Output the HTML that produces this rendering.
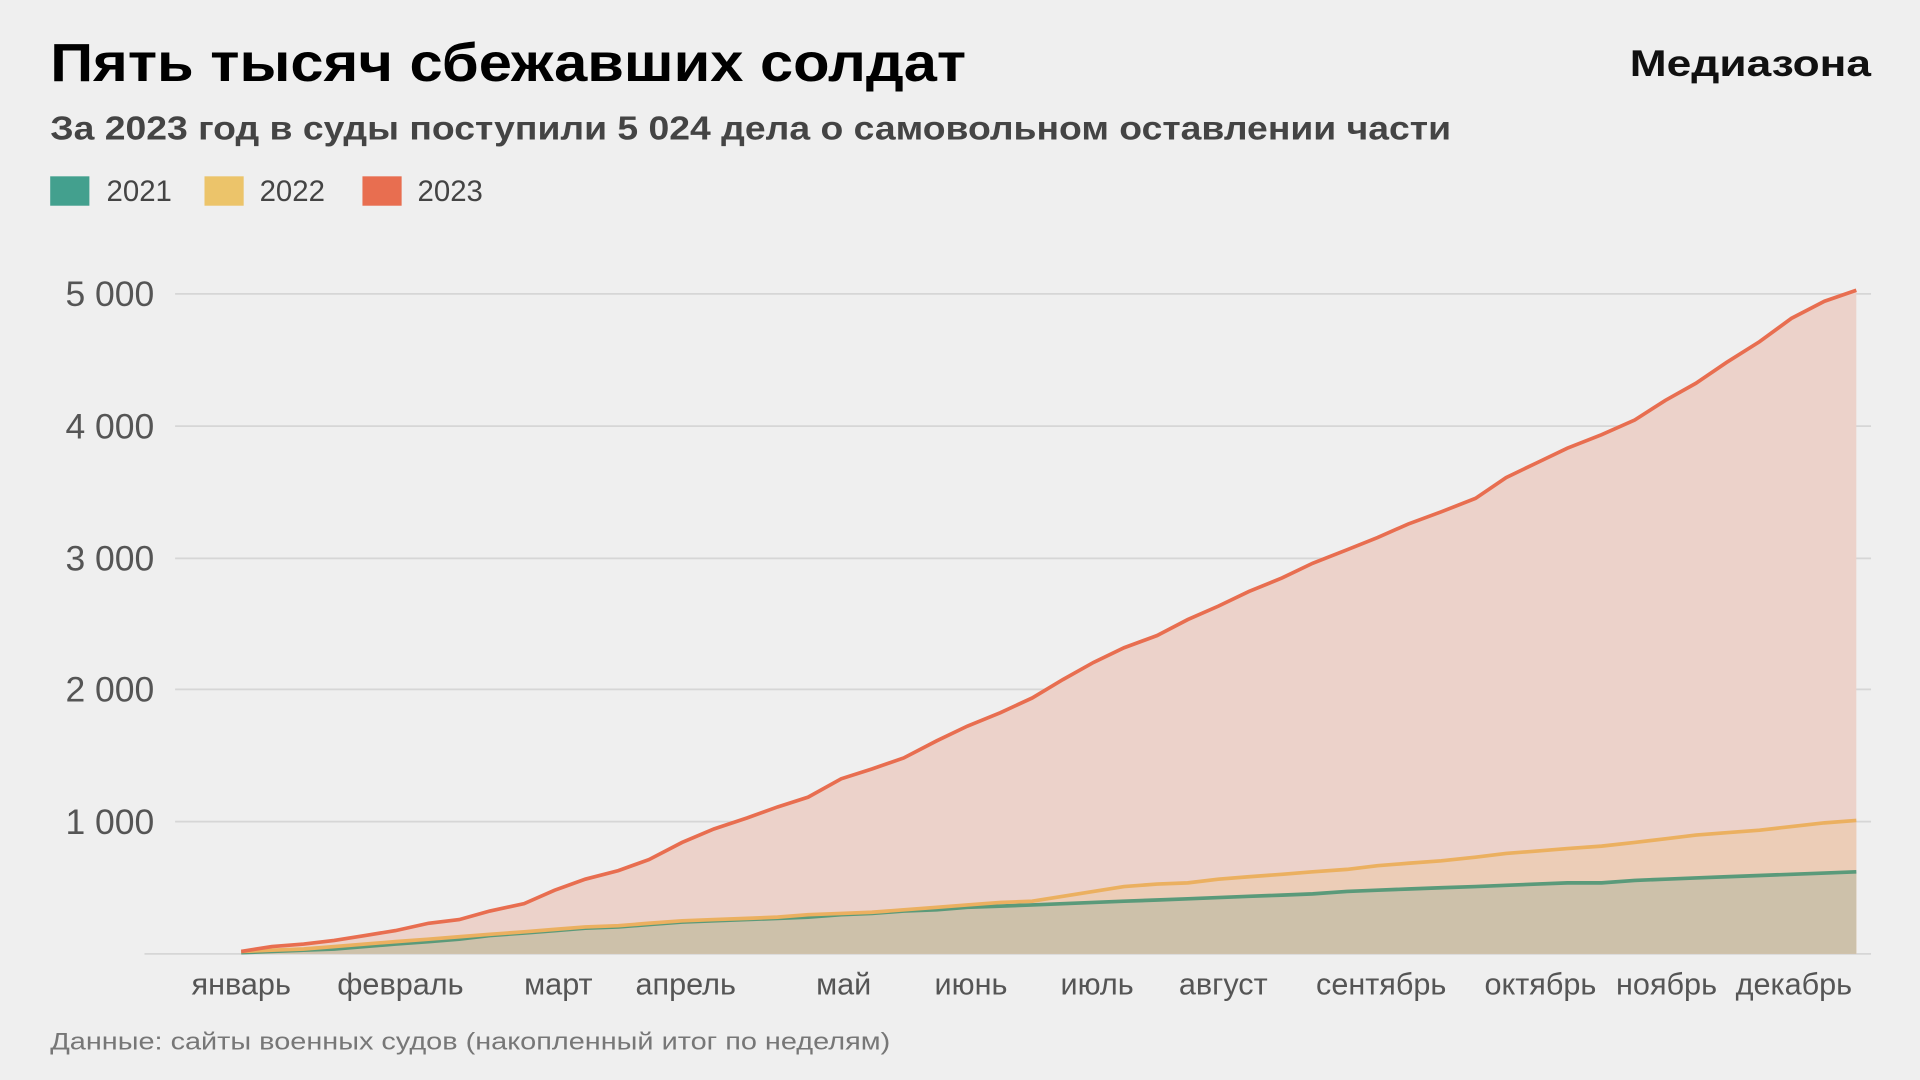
<!DOCTYPE html>
<html><head><meta charset="utf-8"><style>html,body{margin:0;padding:0;background:#efefef;}svg{display:block}</style></head>
<body>
<svg width="1920" height="1080" viewBox="0 0 1568 882" xmlns="http://www.w3.org/2000/svg" font-family="Liberation Sans, sans-serif">
<rect width="1568" height="882" fill="#efefef"/>
<text x="41" y="66" font-size="44" font-weight="bold" fill="#000" textLength="748" lengthAdjust="spacingAndGlyphs">Пять тысяч сбежавших солдат</text>
<text x="1528" y="62" font-size="30" font-weight="bold" fill="#111" text-anchor="end" textLength="197" lengthAdjust="spacingAndGlyphs">Медиазона</text>
<text x="41" y="114" font-size="27" font-weight="bold" fill="#444" textLength="1144" lengthAdjust="spacingAndGlyphs">За 2023 год в суды поступили 5 024 дела о самовольном оставлении части</text>
<rect x="41" y="144" width="32" height="24" fill="#43a08e"/>
<text x="87" y="164" font-size="24" fill="#444">2021</text>
<rect x="167" y="144" width="32" height="24" fill="#ecc46a"/>
<text x="212" y="164" font-size="24" fill="#444">2022</text>
<rect x="296" y="144" width="32" height="24" fill="#e86e50"/>
<text x="341" y="164" font-size="24" fill="#444">2023</text>
<g stroke="#d6d6d6" stroke-width="1.5">
<line x1="143" y1="240" x2="1528" y2="240"/>
<line x1="143" y1="348" x2="1528" y2="348"/>
<line x1="143" y1="456" x2="1528" y2="456"/>
<line x1="143" y1="563" x2="1528" y2="563"/>
<line x1="143" y1="671" x2="1528" y2="671"/>
<line x1="118" y1="779" x2="1528" y2="779"/>
</g>
<g font-size="29" fill="#555" text-anchor="end">
<text x="126" y="250">5 000</text>
<text x="126" y="358">4 000</text>
<text x="126" y="466">3 000</text>
<text x="126" y="573">2 000</text>
<text x="126" y="681">1 000</text>
</g>
<polygon fill="#ecd2ca" points="197,779 197,777 222,773 248,771 273,768 298,764 323,760 350,754 375,751 400,744 428,738 453,727 478,718 505,711 530,702 557,688 583,677 610,668 635,659 660,651 687,636 712,628 738,619 765,605 790,593 817,582 843,570 868,555 893,541 918,529 945,519 970,506 995,495 1020,483 1047,472 1072,460 1100,449 1125,439 1150,428 1177,418 1205,407 1230,390 1255,378 1280,366 1308,355 1335,343 1360,327 1385,313 1410,296 1437,279 1463,260 1490,246 1516,237 1516,779"/>
<polygon fill="#eccdb7" points="197,779 197,777 222,776 248,775 273,773 298,771 323,769 350,767 375,765 400,763 428,761 453,759 478,757 505,756 530,754 557,752 583,751 610,750 635,749 660,747 687,746 712,745 738,743 765,741 790,739 817,737 843,736 868,732 893,728 918,724 945,722 970,721 995,718 1020,716 1047,714 1072,712 1100,710 1125,707 1150,705 1177,703 1205,700 1230,697 1255,695 1280,693 1308,691 1335,688 1360,685 1385,682 1410,680 1437,678 1463,675 1490,672 1516,670 1516,779"/>
<polygon fill="#cdc1aa" points="197,779 197,778 222,777 248,776 273,775 298,773 323,771 350,769 375,767 400,764 428,762 453,760 478,758 505,757 530,755 557,753 583,752 610,751 635,750 660,749 687,747 712,746 738,744 765,743 790,741 817,740 843,739 868,738 893,737 918,736 945,735 970,734 995,733 1020,732 1047,731 1072,730 1100,728 1125,727 1150,726 1177,725 1205,724 1230,723 1255,722 1280,721 1308,721 1335,719 1360,718 1385,717 1410,716 1437,715 1463,714 1490,713 1516,712 1516,779"/>
<polyline fill="none" stroke="#5a9a7a" stroke-width="3" points="197,778 222,777 248,776 273,775 298,773 323,771 350,769 375,767 400,764 428,762 453,760 478,758 505,757 530,755 557,753 583,752 610,751 635,750 660,749 687,747 712,746 738,744 765,743 790,741 817,740 843,739 868,738 893,737 918,736 945,735 970,734 995,733 1020,732 1047,731 1072,730 1100,728 1125,727 1150,726 1177,725 1205,724 1230,723 1255,722 1280,721 1308,721 1335,719 1360,718 1385,717 1410,716 1437,715 1463,714 1490,713 1516,712"/>
<polyline fill="none" stroke="#ebb060" stroke-width="3" points="197,777 222,776 248,775 273,773 298,771 323,769 350,767 375,765 400,763 428,761 453,759 478,757 505,756 530,754 557,752 583,751 610,750 635,749 660,747 687,746 712,745 738,743 765,741 790,739 817,737 843,736 868,732 893,728 918,724 945,722 970,721 995,718 1020,716 1047,714 1072,712 1100,710 1125,707 1150,705 1177,703 1205,700 1230,697 1255,695 1280,693 1308,691 1335,688 1360,685 1385,682 1410,680 1437,678 1463,675 1490,672 1516,670"/>
<polyline fill="none" stroke="#e86e50" stroke-width="3" points="197,777 222,773 248,771 273,768 298,764 323,760 350,754 375,751 400,744 428,738 453,727 478,718 505,711 530,702 557,688 583,677 610,668 635,659 660,651 687,636 712,628 738,619 765,605 790,593 817,582 843,570 868,555 893,541 918,529 945,519 970,506 995,495 1020,483 1047,472 1072,460 1100,449 1125,439 1150,428 1177,418 1205,407 1230,390 1255,378 1280,366 1308,355 1335,343 1360,327 1385,313 1410,296 1437,279 1463,260 1490,246 1516,237"/>
<g font-size="25" fill="#555" text-anchor="middle">
<text x="197" y="812">январь</text>
<text x="327" y="812">февраль</text>
<text x="456" y="812">март</text>
<text x="560" y="812">апрель</text>
<text x="689" y="812">май</text>
<text x="793" y="812">июнь</text>
<text x="896" y="812">июль</text>
<text x="999" y="812">август</text>
<text x="1128" y="812">сентябрь</text>
<text x="1258" y="812">октябрь</text>
<text x="1361" y="812">ноябрь</text>
<text x="1465" y="812">декабрь</text>
</g>
<text x="41" y="857" font-size="20" fill="#777" textLength="686" lengthAdjust="spacingAndGlyphs">Данные: сайты военных судов (накопленный итог по неделям)</text>
</svg>
</body></html>
